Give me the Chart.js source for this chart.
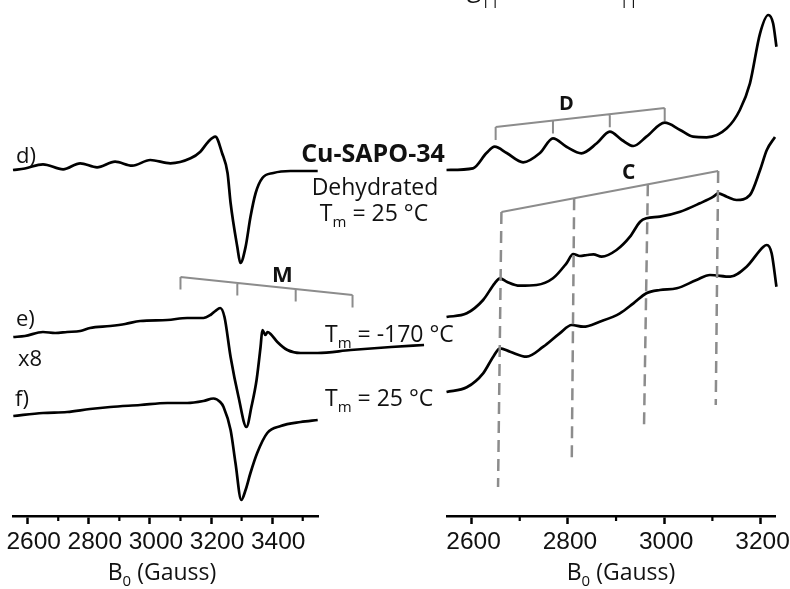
<!DOCTYPE html>
<html>
<head>
<meta charset="utf-8">
<script src="https://cdn.jsdelivr.net/npm/chart.js@4.4.1/dist/chart.umd.min.js"></script>
<style>
  html, body { margin: 0; padding: 0; background: #fff; }
  #wrap { position: relative; width: 790px; height: 589px; }
  #wrap canvas { position: absolute; left: 0; top: 0; }
</style>
</head>
<body>
<div id="wrap">
  <canvas id="left" width="790" height="589"></canvas>
  <canvas id="right" width="790" height="589"></canvas>
</div>
<script>
// field axes (Gauss)
const leftRange = [2552, 3550]
const rightRange = [2549, 3230]
const leftTicks = [2600, 2800, 3000, 3200, 3400]
const leftMinor = [2700, 2900, 3100, 3300, 3500]
const rightTicks = [2600, 2800, 3000, 3200]
const rightMinor = [2700, 2900, 3100]

// d) dehydrated, Tm = 25 C
const dField = [2552,2591,2650,2716,2772,2827,2886,2942,3001,3067,3133,3165,3191,3214,3236,3254,3264,3286,3296,3313,3329,3346,3368,3404,3460,3549]
const dSignal = [0,1.5,5.7,0.7,6.7,2.7,8.3,4.3,10,6.7,11.7,18.3,28.3,33.3,17,-3,-33,-77,-93,-77,-47,-23,-8,-3,-1,-1]
const dOffset = 346

// e) Tm = -170 C
const eField = [2553,2591,2650,2690,2729,2772,2804,2870,2919,2968,3057,3122,3175,3198,3214,3230,3244,3264,3290,3316,3332,3349,3362,3368,3378,3385,3395,3417,3450,3493,3549,3657,3789,3897]
const eSignal = [0,1,5,4,5,6,9,11,13,16,17,19,19,22,26,29,20,-20,-60,-90,-70,-43,-10,7,2,5,3,-5,-13,-16,-16,-13,-10,-8]
const eOffset = 179

// f) Tm = 25 C
const fField = [2553,2650,2729,2804,2870,2968,3057,3122,3175,3208,3230,3241,3264,3280,3299,3313,3329,3351,3384,3428,3493,3549]
const fSignal = [0,3,4,7,9,11,13,13,15,17.5,14,9,-14,-47,-84,-74,-57,-37,-17,-10,-6,-4]
const fOffset = 100

// parallel region, expanded
const dParField = [2548,2603,2631,2648,2673,2707,2742,2769,2797,2828,2860,2887,2912,2936,2963,3001,3033,3060,3088,3130,3157,3178,3199,3216,3226,3233]
const dParSignal = [0,1.7,17,23.3,17,7.7,17,31.7,23.3,16.7,26.7,38.3,30,24,33.3,47.3,40,33.3,32.7,41.7,60,86.7,136.7,155,146.7,123.3]
const dParOffset = 346

const eParField = [2548,2590,2624,2648,2659,2673,2700,2735,2769,2797,2811,2825,2840,2853,2870,2901,2929,2950,2963,2991,3033,3074,3102,3112,3130,3150,3178,3199,3213,3230]
const eParSignal = [0,3.7,17,33.7,38.7,35.3,31.3,32,38.7,53.7,63,61,62,62.7,60.3,67,80.3,95.3,98.7,100.3,105.3,113.7,120.3,123.7,120.3,117,122,147,167,180]
const eParOffset = 199

const fParField = [2548,2590,2624,2645,2659,2680,2714,2749,2783,2808,2832,2866,2908,2936,2963,2991,3026,3067,3095,3137,3171,3206,3213,3223,3233]
const fParSignal = [0,4.7,18.7,35.3,43.7,40.3,35.3,45.3,58.7,67,65.3,70.3,78.7,88.7,98.7,102,103.7,112,117,115.3,125.3,145.3,147,138.7,105.3]
const fParOffset = 124

// hyperfine markers
const mLines = [3100, 3286, 3477, 3663]
const mLevel = [239, 221]
const dLines = [2650, 2769, 2887, 3001]
const dLevel = [389, 408]
const cLines = [2662, 2813, 2966, 3112]
const cLevel = [304, 345]
const cDropField = [2655, 2808, 2958, 3107]
const cDropLevel = [29, 54, 88, 111]

const tickFont = "'Liberation Sans Narrow', 'Liberation Sans', sans-serif"
const textFont = "'Open Sans', 'Noto Sans', sans-serif"
const gray = '#8c8c8c'

const notes = [
  { parts: [['d)']], x: 16, y: 163, size: 22 },
  { parts: [['e)']], x: 16, y: 326, size: 22 },
  { parts: [['x8']], x: 18, y: 366, size: 22 },
  { parts: [['f)']], x: 15, y: 406, size: 22 },
  { parts: [['Cu-SAPO-34']], x: 373, y: 162, size: 25, bold: true, align: 'center' },
  { parts: [['Dehydrated']], x: 375, y: 195, size: 23, align: 'center' },
  { parts: [['T'], ['m', 1], [' = 25 °C']], x: 374, y: 221, size: 23, align: 'center' },
  { parts: [['T'], ['m', 1], [' = -170 °C']], x: 325, y: 342, size: 23 },
  { parts: [['T'], ['m', 1], [' = 25 °C']], x: 325, y: 406, size: 23 },
  { parts: [['M']], x: 272, y: 282, size: 22, bold: true },
  { parts: [['D']], x: 559, y: 110, size: 20, bold: true },
  { parts: [['C']], x: 622, y: 179, size: 21, bold: true },
  { parts: [['B'], ['0', 1], [' (Gauss)']], x: 162, y: 580, size: 23, align: 'center' },
  { parts: [['B'], ['0', 1], [' (Gauss)']], x: 621, y: 580, size: 23, align: 'center' },
  { parts: [['g'], ['||', 1]], x: 467, y: -3, size: 26 },
  { parts: [['A'], ['||', 1]], x: 603, y: -3, size: 26 },
]

// points are fed high field first so the line is not trimmed at the axis end
const trace = (field, signal, offset) => ({
  data: field.map((b, i) => ({ x: b, y: offset + signal[i] })).reverse(),
  borderColor: '#000',
  borderWidth: 2.7,
  pointRadius: 0,
  fill: false,
  clip: false,
  cubicInterpolationMode: 'monotone',
})

const fieldAxis = (range, ticks, shift) => ({
  type: 'linear',
  position: 'bottom',
  min: range[0],
  max: range[1],
  afterBuildTicks: (s) => { s.ticks = ticks.map(v => ({ value: v })) },
  afterFit: (s) => { s.height = 73; s.paddingLeft = 0; s.paddingRight = 0 },
  grid: { drawOnChartArea: false, drawTicks: true, tickLength: 8, tickWidth: 2.5, tickColor: '#000' },
  border: { display: true, color: '#000', width: 2.5 },
  ticks: {
    autoSkip: false, maxRotation: 0, padding: 4, labelOffset: shift, color: '#111',
    font: { family: tickFont, size: 24.5 },
    callback: (v) => String(v),
  },
})

const levelAxis = { type: 'linear', display: false, min: 0, max: 516 }

function drawRich(ctx, item) {
  const w8 = item.bold ? 'bold ' : ''
  const big = `${w8}${item.size}px ${textFont}`
  const small = `${w8}${Math.round(item.size * 0.65)}px ${textFont}`
  ctx.save()
  ctx.fillStyle = '#111'
  ctx.textAlign = 'left'
  ctx.textBaseline = 'alphabetic'
  let width = 0
  item.parts.forEach(([t, sub]) => { ctx.font = sub ? small : big; width += ctx.measureText(t).width })
  let x = item.align === 'center' ? item.x - width / 2 : item.x
  item.parts.forEach(([t, sub]) => {
    ctx.font = sub ? small : big
    ctx.fillText(t, x, item.y + (sub ? item.size * 0.27 : 0))
    x += ctx.measureText(t).width
  })
  ctx.restore()
}

function minorTicks(chart, values) {
  const { ctx, scales: { x } } = chart
  ctx.save()
  ctx.strokeStyle = '#000'
  ctx.lineWidth = 2.2
  ctx.beginPath()
  values.forEach(v => {
    const px = x.getPixelForValue(v)
    ctx.moveTo(px, x.top)
    ctx.lineTo(px, x.top + 5)
  })
  ctx.stroke()
  ctx.restore()
}

// slanted comb: returns the pixel y on the comb for each marker
function drawComb(chart, lines, level, tickLen) {
  const { ctx, scales: { x, y } } = chart
  const x0 = x.getPixelForValue(lines[0])
  const x1 = x.getPixelForValue(lines[lines.length - 1])
  const y0 = y.getPixelForValue(level[0])
  const y1 = y.getPixelForValue(level[1])
  const at = px => y0 + (y1 - y0) * (px - x0) / (x1 - x0)
  ctx.save()
  ctx.strokeStyle = gray
  ctx.lineWidth = 2
  ctx.beginPath()
  ctx.moveTo(x0, y0)
  ctx.lineTo(x1, y1)
  lines.forEach(b => {
    const px = x.getPixelForValue(b)
    ctx.moveTo(px, at(px))
    ctx.lineTo(px, at(px) + tickLen)
  })
  ctx.stroke()
  ctx.restore()
  return lines.map(b => at(x.getPixelForValue(b)))
}

const leftDecor = {
  id: 'leftDecor',
  afterDraw(chart) {
    minorTicks(chart, leftMinor)
    drawComb(chart, mLines, mLevel, 12.5)
  },
}

const rightDecor = {
  id: 'rightDecor',
  afterDraw(chart) {
    const { ctx, scales: { x, y } } = chart
    minorTicks(chart, rightMinor)
    drawComb(chart, dLines, dLevel, 13)
    const tops = drawComb(chart, cLines, cLevel, 0)
    ctx.save()
    ctx.strokeStyle = gray
    ctx.lineWidth = 2.5
    ctx.setLineDash([12, 7])
    cLines.forEach((b, i) => {
      ctx.beginPath()
      ctx.moveTo(x.getPixelForValue(b), tops[i])
      ctx.lineTo(x.getPixelForValue(cDropField[i]), y.getPixelForValue(cDropLevel[i]))
      ctx.stroke()
    })
    ctx.restore()
    notes.forEach(n => drawRich(ctx, n))
  },
}

const common = {
  responsive: false,
  animation: false,
  devicePixelRatio: 1,
  events: [],
  plugins: { legend: { display: false }, tooltip: { enabled: false } },
}

new Chart(document.getElementById('left'), {
  type: 'line',
  data: {
    datasets: [
      trace(dField, dSignal, dOffset),
      trace(eField, eSignal, eOffset),
      trace(fField, fSignal, fOffset),
    ],
  },
  options: {
    ...common,
    layout: { padding: { left: 13, right: 472, top: 0, bottom: 0 } },
    scales: { x: fieldAxis(leftRange, leftTicks, 6), y: levelAxis },
  },
  plugins: [leftDecor],
})

new Chart(document.getElementById('right'), {
  type: 'line',
  data: {
    datasets: [
      trace(dParField, dParSignal, dParOffset),
      trace(eParField, eParSignal, eParOffset),
      trace(fParField, fParSignal, fParOffset),
    ],
  },
  options: {
    ...common,
    layout: { padding: { left: 447, right: 15, top: 0, bottom: 0 } },
    scales: { x: fieldAxis(rightRange, rightTicks, 2), y: levelAxis },
  },
  plugins: [rightDecor],
})
</script>
</body>
</html>
